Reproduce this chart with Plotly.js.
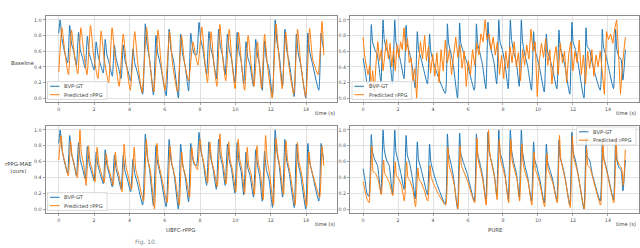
<!DOCTYPE html>
<html><head><meta charset="utf-8">
<script src="https://cdn.plot.ly/plotly-3.0.1.min.js"></script>
<style>html,body{margin:0;padding:0;background:#fff;}#chart{width:640px;height:248px;}</style>
</head><body><div id="chart"></div>
<script>
// ---------- data ----------
const xTicks = [0, 2, 4, 6, 8, 10, 12, 14];
const yTicks = [0, 0.2, 0.4, 0.6, 0.8, 1.0];
const yTickText = ['0.0', '0.2', '0.4', '0.6', '0.8', '1.0'];
const seriesNames = ['BVP-GT', 'Predicted rPPG'];
const rowLabels = ['Baseline', 'rPPG-MAE<br>(ours)'];
const colLabels = ['UBFC-rPPG', 'PURE'];
const axisLabel = 'time (s)';

// UBFC-rPPG ground truth BVP
const ubfcT = [0.00,0.08,0.18,0.30,0.50, 0.62,0.72,0.84,1.00, 1.12,1.22,1.34,1.50, 1.62,1.72,1.84,2.00,
  2.12,2.22,2.34,2.52, 2.63,2.73,2.86,3.03, 3.15,3.25,3.37,3.53, 3.65,3.75,3.88,4.07, 4.20,4.30,4.45,4.75,
  4.90,5.00,5.14,5.36, 5.50,5.60,5.76,6.08, 6.25,6.35,6.52,6.77, 6.90,7.00,7.15,7.35, 7.47,7.57,7.68,7.80,
  7.94,8.04,8.16,8.37, 8.50,8.60,8.73,8.92, 9.05,9.15,9.27,9.42, 9.55,9.65,9.78,9.97, 10.10,10.20,10.32,10.47,
  10.60,10.70,10.83,11.02, 11.15,11.25,11.37,11.52, 11.65,11.75,11.90,12.10, 12.25,12.35,12.48,12.67,
  12.80,12.90,13.05,13.33, 13.45,13.55,13.70,13.98, 14.10,14.20,14.35,14.72, 14.85,14.93,15.00];
const ubfcV = [0.83,1.00,0.76,0.62,0.45, 0.93,0.70,0.60,0.42, 0.84,0.62,0.52,0.38, 0.79,0.58,0.48,0.36,
  0.72,0.55,0.45,0.32, 0.75,0.55,0.44,0.28, 0.68,0.50,0.40,0.25, 0.68,0.48,0.38,0.22, 0.63,0.45,0.33,0.05,
  0.95,0.68,0.50,0.04, 0.80,0.58,0.42,0.03, 0.88,0.62,0.45,0.00, 0.82,0.58,0.42,0.09, 0.83,0.65,0.56,0.55,
  0.97,0.75,0.62,0.30, 0.85,0.65,0.52,0.25, 0.88,0.66,0.55,0.30, 0.82,0.62,0.50,0.20, 0.84,0.60,0.48,0.18,
  0.72,0.52,0.42,0.15, 0.75,0.55,0.42,0.10, 0.73,0.50,0.38,0.02, 1.00,0.72,0.55,0.15,
  0.88,0.62,0.45,0.02, 0.82,0.58,0.42,0.00, 0.83,0.60,0.45,0.10, 0.83,0.70,0.62];

// UBFC-rPPG baseline prediction
const blUbfcT = [0.00, 0.18,0.35,0.55, 0.72,0.89,1.08, 1.25,1.42,1.60, 1.80,1.97,2.22, 2.40,2.57,2.82,
  3.02,3.19,3.42, 3.65,3.82,4.05, 4.30,4.47,4.72, 4.97,5.14,5.38, 5.62,5.79,6.02, 6.28,6.45,6.72,
  6.95,7.12,7.35, 7.60,7.74,7.88, 8.10,8.26,8.42, 8.62,8.78,8.95, 9.12,9.28,9.45, 9.65,9.81,9.98,
  10.18,10.35,10.52, 10.72,10.88,11.05, 11.25,11.36,11.48, 11.65,11.82,12.08, 12.30,12.47,12.65,
  12.85,13.02,13.30, 13.52,13.69,13.98, 14.20,14.37,14.68, 14.90,15.00];
const blUbfcV = [0.33, 0.90,0.58,0.30, 0.87,0.55,0.31, 0.90,0.57,0.30, 0.93,0.55,0.25, 0.86,0.50,0.20,
  0.90,0.50,0.15, 0.82,0.45,0.10, 0.85,0.45,0.07, 0.90,0.48,0.08, 0.87,0.45,0.10, 0.85,0.42,0.08,
  0.80,0.45,0.22, 0.72,0.55,0.42, 0.91,0.50,0.20, 0.85,0.45,0.15, 0.94,0.52,0.22, 0.88,0.45,0.12,
  0.84,0.42,0.10, 0.80,0.45,0.15, 0.72,0.40,0.12, 0.82,0.40,0.00, 0.95,0.50,0.12,
  0.84,0.42,0.05, 0.88,0.45,0.02, 0.89,0.50,0.30, 0.98,0.55];

// UBFC-rPPG rPPG-MAE prediction
const maeUbfcT = [0.00,0.13,0.22,0.34,0.54, 0.67,0.76,0.88,1.05, 1.20,1.28,1.40,1.55, 1.68,1.77,1.89,2.05,
  2.17,2.27,2.39,2.57, 2.68,2.78,2.91,3.08, 3.20,3.30,3.42,3.58, 3.70,3.80,3.93,4.12, 4.27,4.36,4.50,4.80,
  4.96,5.05,5.19,5.42, 5.56,5.65,5.81,6.13, 6.30,6.40,6.57,6.82, 6.96,7.05,7.20,7.40, 7.53,7.62,7.73,7.85,
  8.00,8.09,8.21,8.42, 8.56,8.65,8.78,8.97, 9.12,9.20,9.32,9.47, 9.62,9.70,9.83,10.02, 10.16,10.25,10.37,10.52,
  10.67,10.75,10.88,11.07, 11.22,11.30,11.42,11.57, 11.71,11.80,11.95,12.15, 12.30,12.40,12.53,12.72,
  12.86,12.95,13.10,13.38, 13.51,13.60,13.75,14.03, 14.16,14.25,14.40,14.77, 14.90,14.96,15.00];
const maeUbfcV = [0.62,0.93,0.72,0.60,0.42, 0.86,0.66,0.55,0.40, 1.00,0.70,0.58,0.30, 0.80,0.60,0.50,0.34,
  0.78,0.57,0.47,0.33, 0.70,0.55,0.45,0.30, 0.72,0.52,0.42,0.22, 0.82,0.55,0.42,0.25, 0.78,0.50,0.38,0.10,
  0.88,0.62,0.48,0.00, 0.83,0.58,0.42,0.08, 0.80,0.58,0.42,0.05, 0.72,0.52,0.40,0.15, 0.78,0.62,0.55,0.50,
  0.88,0.70,0.58,0.33, 0.84,0.62,0.50,0.28, 0.95,0.70,0.55,0.32, 0.85,0.62,0.50,0.22, 0.88,0.62,0.50,0.20,
  0.78,0.55,0.45,0.18, 0.80,0.58,0.45,0.12, 0.93,0.62,0.42,0.05, 0.90,0.68,0.52,0.18,
  0.86,0.62,0.45,0.05, 0.84,0.60,0.44,0.03, 0.72,0.55,0.42,0.15, 0.80,0.66,0.55];

// PURE ground truth BVP
const pureT = [0.00,0.10,0.22,0.33, 0.47,0.54,0.67,0.82,1.02, 1.14,1.21,1.34,1.49,1.68, 1.81,1.88,2.01,2.16,2.34,
  2.46,2.53,2.66,2.81,2.98, 3.10,3.17,3.30,3.45,3.68, 3.80,3.87,4.00,4.25,4.70, 4.82,4.89,5.02,5.17,5.40,
  5.52,5.59,5.72,5.95,6.36, 6.48,6.55,6.68,6.83,7.02, 7.14,7.21,7.34,7.49,7.64, 7.76,7.83,7.96,8.11,8.30,
  8.42,8.49,8.62,8.77,8.93, 9.05,9.12,9.25,9.40,9.63, 9.75,9.82,9.95,10.10,10.36, 10.48,10.55,10.68,10.83,11.08,
  11.20,11.27,11.40,11.55,11.82, 11.94,12.01,12.14,12.29,12.63, 12.75,12.82,12.95,13.10,13.56,
  13.68,13.75,13.88,14.03,14.32, 14.44,14.51,14.64,14.75,14.86,15.00];
const pureV = [0.51,0.38,0.20,0.16, 0.94,0.72,0.62,0.55,0.20, 1.00,0.75,0.62,0.55,0.18, 1.00,0.72,0.60,0.45,0.25,
  0.93,0.68,0.58,0.40,0.13, 0.85,0.62,0.52,0.38,0.18, 0.82,0.60,0.48,0.30,0.06, 0.95,0.70,0.58,0.40,0.00,
  0.96,0.70,0.60,0.45,0.10, 0.95,0.70,0.58,0.42,0.12, 0.97,0.72,0.60,0.45,0.18, 1.00,0.72,0.62,0.45,0.12,
  1.00,0.75,0.58,0.45,0.15, 1.00,0.72,0.55,0.42,0.10, 0.85,0.62,0.52,0.38,0.08, 0.82,0.60,0.50,0.38,0.12,
  0.87,0.65,0.55,0.40,0.05, 0.97,0.72,0.62,0.45,0.00, 0.90,0.66,0.62,0.45,0.10,
  0.88,0.65,0.55,0.40,0.12, 0.88,0.62,0.52,0.50,0.23,0.62];

// PURE baseline prediction
const blPureT = [0.00,0.08,0.18,0.28,0.38,0.46,0.55,0.64,0.74,0.84,
  0.94,1.04,1.14,1.24,1.34,1.44,1.54,1.64,1.74,1.84,
  1.94,2.04,2.14,2.24,2.34,2.44,2.54,2.64,2.74,2.84,
  2.96,3.06,3.16,3.28,3.40,3.52,3.62,3.74,3.86,3.98,
  4.10,4.22,4.34,4.46,4.58,4.70,4.82,4.94,5.06,5.18,
  5.30,5.42,5.54,5.66,5.78,5.90,6.02,6.14,6.26,6.38,
  6.50,6.62,6.74,6.86,6.98,7.08,7.20,7.32,7.44,7.56,
  7.68,7.80,7.92,8.04,8.16,8.28,8.40,8.52,8.64,8.76,
  8.88,9.00,9.12,9.24,9.36,9.48,9.60,9.72,9.84,9.96,
  10.08,10.20,10.32,10.44,10.56,10.68,10.80,10.92,11.04,11.16,
  11.28,11.40,11.52,11.64,11.76,11.88,12.00,12.12,12.24,12.36,
  12.48,12.60,12.72,12.84,12.96,13.08,13.20,13.32,13.44,13.56,
  13.68,13.80,13.92,14.04,14.16,14.28,14.40,14.50,14.60,14.72,
  14.84,14.94,15.00];
const blPureV = [0.78,0.55,0.42,0.30,0.42,0.15,0.35,0.08,0.45,0.72,
  0.48,0.62,0.35,0.58,0.75,0.50,0.70,0.40,0.62,0.35,
  0.68,0.52,0.72,0.62,0.90,0.60,0.76,0.45,0.52,0.22,
  0.38,0.00,0.42,0.72,0.50,0.80,0.48,0.66,0.32,0.56,
  0.28,0.58,0.20,0.62,0.35,0.74,0.45,0.62,0.30,0.55,
  0.78,0.52,0.68,0.38,0.60,0.15,0.48,0.30,0.62,0.42,
  0.70,0.55,0.82,0.72,1.00,0.75,0.82,0.62,0.78,0.55,
  0.72,0.30,0.55,0.25,0.60,0.38,0.66,0.45,0.72,0.40,
  0.58,0.22,0.62,0.42,0.68,0.50,0.88,0.60,0.72,0.02,
  0.48,0.70,0.52,0.76,0.42,0.62,0.18,0.50,0.66,0.30,
  0.70,0.45,0.60,0.20,0.56,0.72,0.35,0.60,0.45,0.74,
  0.30,0.55,0.18,0.60,0.38,0.62,0.28,0.55,0.40,0.60,
  0.30,0.05,0.85,0.75,0.82,0.70,0.90,1.00,0.62,0.05,
  0.45,0.70,0.78];

// PURE rPPG-MAE prediction
const maePureT = [0.00,0.12,0.24,0.34, 0.50,0.57,0.70,0.85,1.04, 1.17,1.24,1.37,1.52,1.70, 1.84,1.91,2.04,2.19,2.36,
  2.49,2.56,2.69,2.84,3.00, 3.13,3.20,3.33,3.48,3.70, 3.83,3.90,4.03,4.28,4.72, 4.85,4.92,5.05,5.20,5.42,
  5.55,5.62,5.75,5.98,6.38, 6.51,6.58,6.71,6.86,7.04, 7.17,7.24,7.37,7.52,7.66, 7.79,7.86,7.99,8.14,8.32,
  8.45,8.52,8.65,8.80,8.95, 9.08,9.15,9.28,9.43,9.65, 9.78,9.85,9.98,10.13,10.38, 10.51,10.58,10.71,10.86,11.10,
  11.23,11.30,11.43,11.58,11.84, 11.97,12.04,12.17,12.32,12.65, 12.78,12.85,12.98,13.13,13.58,
  13.71,13.78,13.91,14.06,14.34, 14.47,14.54,14.67,14.78,14.88,15.00];
const maePureV = [0.35,0.22,0.12,0.08, 0.80,0.48,0.45,0.38,0.18, 0.62,0.45,0.40,0.32,0.17, 0.60,0.42,0.38,0.30,0.10,
  0.60,0.40,0.35,0.25,0.03, 0.52,0.38,0.33,0.25,0.10, 0.55,0.40,0.32,0.20,0.05, 0.78,0.55,0.45,0.32,0.00,
  0.80,0.55,0.48,0.35,0.08, 0.90,0.62,0.50,0.35,0.05, 1.00,0.72,0.55,0.40,0.12, 0.88,0.62,0.52,0.38,0.08,
  0.88,0.62,0.50,0.38,0.10, 0.82,0.58,0.45,0.35,0.05, 0.72,0.50,0.42,0.30,0.03, 0.70,0.50,0.42,0.32,0.08,
  0.93,0.65,0.50,0.35,0.02, 0.92,0.65,0.55,0.40,0.00, 0.78,0.55,0.52,0.40,0.05,
  0.88,0.62,0.50,0.35,0.08, 0.90,0.62,0.55,0.52,0.30,0.75];

// ---------- layout ----------
const W = 640, H = 248;
const fx = p => p / W, fy = p => 1 - p / H;
const BLUE = '#1f77b4', ORANGE = '#ff7f0e';
const FONT = 'DejaVu Sans';
const TXT = '#444';

const panels = [
  {gt: [ubfcT, ubfcV], pr: [blUbfcT, blUbfcV],   prShape: 'spline', xd: [45.5, 337], yd: [16, 102],  leg: [47.5, 81.5]},
  {gt: [pureT, pureV], pr: [blPureT, blPureV],   prShape: 'linear', xd: [350, 638.5], yd: [16, 102], leg: [352, 81.5]},
  {gt: [ubfcT, ubfcV], pr: [maeUbfcT, maeUbfcV], prShape: 'spline', xd: [45.5, 337], yd: [126, 213], leg: [47.5, 192.5]},
  {gt: [pureT, pureV], pr: [maePureT, maePureV], prShape: 'spline', xd: [350, 638.5], yd: [126, 213], leg: [576.5, 127]}
];

const traces = [];
const layout = {
  width: W, height: H,
  margin: {l: 0, r: 0, t: 0, b: 0},
  paper_bgcolor: '#fff', plot_bgcolor: '#fff',
  showlegend: false,
  font: {family: FONT, size: 5, color: TXT},
  shapes: [], annotations: []
};

panels.forEach((p, i) => {
  const sfx = i === 0 ? '' : String(i + 1);
  const xa = 'x' + sfx, ya = 'y' + sfx;
  traces.push({x: p.gt[0], y: p.gt[1], xaxis: xa, yaxis: ya, type: 'scatter', mode: 'lines',
    name: seriesNames[0], line: {color: BLUE, width: 1, shape: 'spline', smoothing: 0.5}, hoverinfo: 'skip'});
  traces.push({x: p.pr[0], y: p.pr[1], xaxis: xa, yaxis: ya, type: 'scatter', mode: 'lines',
    name: seriesNames[1], line: {color: ORANGE, width: 1, shape: p.prShape, smoothing: 0.5}, hoverinfo: 'skip'});
  const common = {
    showline: true, mirror: true, linecolor: '#8c8c8c', linewidth: 1,
    showgrid: true, gridcolor: '#dadada', gridwidth: 0.8, zeroline: false,
    ticks: 'outside', ticklen: 2, tickwidth: 0.6, tickcolor: '#666',
    tickfont: {family: FONT, size: 4.8, color: '#555'}
  };
  layout['xaxis' + sfx] = Object.assign({}, common, {
    domain: [fx(p.xd[0]), fx(p.xd[1])], anchor: ya, range: [-0.75, 15.75],
    tickmode: 'array', tickvals: xTicks, ticktext: xTicks.map(String)
  });
  layout['yaxis' + sfx] = Object.assign({}, common, {
    domain: [fy(p.yd[1]), fy(p.yd[0])], anchor: xa, range: [-0.05, 1.05],
    tickmode: 'array', tickvals: yTicks, ticktext: yTickText
  });
  // "time (s)" axis label at right end
  layout.annotations.push({xref: 'paper', yref: 'paper', x: fx(p.xd[1] - 0.5), y: fy(p.yd[1] + 11),
    xanchor: 'right', yanchor: 'middle', showarrow: false, text: axisLabel,
    font: {family: FONT, size: 5.2, color: TXT}});
  // legend box
  const lx = p.leg[0], ly = p.leg[1];
  layout.shapes.push({type: 'rect', xref: 'paper', yref: 'paper', x0: fx(lx), x1: fx(lx + 59.5),
    y0: fy(ly + 18), y1: fy(ly), fillcolor: 'rgba(255,255,255,0.8)', line: {color: '#cfcfcf', width: 0.7}});
  [BLUE, ORANGE].forEach((c, k) => {
    const yy = ly + 4.8 + k * 8.4;
    layout.shapes.push({type: 'line', xref: 'paper', yref: 'paper', x0: fx(lx + 2.5), x1: fx(lx + 12),
      y0: fy(yy), y1: fy(yy), line: {color: c, width: 1}});
    layout.annotations.push({xref: 'paper', yref: 'paper', x: fx(lx + 14.5), y: fy(yy),
      xanchor: 'left', yanchor: 'middle', showarrow: false, text: seriesNames[k],
      font: {family: FONT, size: 5.2, color: TXT}});
  });
});

// row labels
layout.annotations.push({xref: 'paper', yref: 'paper', x: fx(22.5), y: fy(63), xanchor: 'center', yanchor: 'middle',
  showarrow: false, text: rowLabels[0], font: {family: FONT, size: 5.4, color: TXT}});
layout.annotations.push({xref: 'paper', yref: 'paper', x: fx(18), y: fy(167), xanchor: 'center', yanchor: 'middle',
  showarrow: false, text: rowLabels[1], font: {family: FONT, size: 5.4, color: TXT}});
// column labels
layout.annotations.push({xref: 'paper', yref: 'paper', x: fx(180), y: fy(230), xanchor: 'center', yanchor: 'middle',
  showarrow: false, text: colLabels[0], font: {family: FONT, size: 5.4, color: TXT}});
layout.annotations.push({xref: 'paper', yref: 'paper', x: fx(495), y: fy(230), xanchor: 'center', yanchor: 'middle',
  showarrow: false, text: colLabels[1], font: {family: FONT, size: 5.4, color: TXT}});
// caption fragment at the bottom edge (kept fully inside the picture)
layout.annotations.push({xref: 'paper', yref: 'paper', x: fx(133), y: fy(247.5), xanchor: 'left', yanchor: 'bottom',
  showarrow: false, text: 'Fig. 10.', font: {family: FONT, size: 6, color: '#888'}});

Plotly.newPlot('chart', traces, layout, {staticPlot: true, displayModeBar: false});
</script>
</body></html>
